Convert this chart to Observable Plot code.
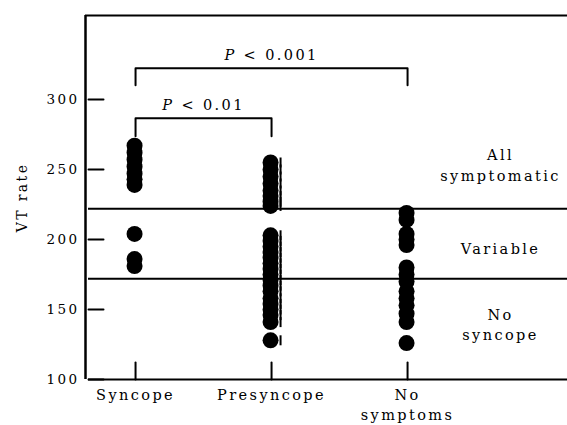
<!DOCTYPE html>
<html>
<head>
<meta charset="utf-8">
<script src="https://cdn.jsdelivr.net/npm/d3@7"></script>
<script src="https://cdn.jsdelivr.net/npm/@observablehq/plot@0.6"></script>
<style>
  html, body { margin: 0; padding: 0; background: #fff; }
</style>
</head>
<body>
<div id="chart"></div>
<script>
// ---- data ----
const categories = ["Syncope", "Presyncope", "No symptoms"];
const categoryLabels = ["Syncope", "Presyncope", "No\nsymptoms"];
const syncope = [267, 262, 257, 252, 247, 243, 239, 204, 186, 181];
const presyncope = [255, 250, 245, 240, 235, 231, 227, 224,
  203, 199, 195, 191, 187, 183, 179, 175, 171, 167, 163, 158, 154, 150, 146, 141, 128];
const noSymptoms = [219, 214, 204, 200, 196, 180, 175, 170, 163, 158, 153, 147, 141, 126];
const yTicks = [100, 150, 200, 250, 300];
const thresholds = [222, 172];
const zoneLabels = ["All\nsymptomatic", "Variable", "No\nsyncope"];
const zoneLabelY = [254, 194, 140];
const bracketFrom = [0, 0];
const bracketTo = [2, 1];
const bracketTop = [322.4, 286.6];
const bracketLeg = [310.2, 273.8];
const bracketText = ["P < 0.001", "P < 0.01"];
const bracketTextY = [331.5, 296];

const series = [syncope, presyncope, noSymptoms];
const points = series.flatMap((vals, i) => vals.map(v => ({cat: i, v})));
const catIdx = categories.map((_, i) => i);
const bracketPts = bracketFrom.flatMap((f, b) => [
  {b, x: f, y: bracketLeg[b]},
  {b, x: f, y: bracketTop[b]},
  {b, x: bracketTo[b], y: bracketTop[b]},
  {b, x: bracketTo[b], y: bracketLeg[b]}
]);
const brackets = bracketFrom.map((f, b) => ({x: (f + bracketTo[b]) / 2, y: bracketTextY[b], t: bracketText[b]}));

const X0 = -0.368, X1 = 3.176, Y0 = 100, Y1 = 360;
const lineShape = {draw(ctx, l) { ctx.moveTo(0, 0); ctx.lineTo(0, -l); }};
const vbar = {draw(ctx) { ctx.rect(-1, -5, 2, 10); }};

const plot = Plot.plot({
  width: 567,
  height: 425,
  marginLeft: 85,
  marginRight: 0,
  marginTop: 15,
  marginBottom: 46,
  x: {type: "linear", domain: [X0, X1], axis: null},
  y: {domain: [Y0, Y1], axis: null},
  style: {fontFamily: "'DejaVu Serif', serif", fontSize: "14.5px", letterSpacing: "2.4px", color: "black", background: "white"},
  marks: [
    // frame lines
    Plot.ruleX([X0], {stroke: "black", strokeWidth: 2.5}),
    Plot.ruleY([Y1], {stroke: "black", strokeWidth: 2}),
    Plot.ruleY([Y0], {stroke: "black", strokeWidth: 2, insetLeft: 3}),
    Plot.ruleY(thresholds, {stroke: "black", strokeWidth: 2, insetLeft: 3}),
    // y ticks
    Plot.vector(yTicks, {y: d => d, frameAnchor: "left", length: 15, rotate: 90, anchor: "start", shape: lineShape, dx: 3, stroke: "black", strokeWidth: 2}),
    Plot.text(yTicks, {y: d => d, text: d => String(d), frameAnchor: "left", textAnchor: "end", dx: -6, fontSize: 13.5}),
    // x ticks
    Plot.vector(catIdx, {x: d => d, frameAnchor: "bottom", length: 17, rotate: 0, anchor: "start", shape: lineShape, stroke: "black", strokeWidth: 2}),
    Plot.text(catIdx, {x: d => d, text: d => categoryLabels[d], frameAnchor: "bottom", lineAnchor: "top", dy: 7, lineHeight: 1.35}),
    // y label
    Plot.text(["VT rate"], {frameAnchor: "left", textAnchor: "middle", dx: -63, rotate: -90, fontSize: 14, letterSpacing: "3px"}),
    // brackets
    Plot.line(bracketPts, {x: "x", y: "y", z: "b", stroke: "black", strokeWidth: 2}),
    Plot.text(brackets, {x: "x", y: "y", text: "t"}),
    // zone labels
    Plot.text(zoneLabels, {y: (d, i) => zoneLabelY[i], text: d => d, frameAnchor: "right", textAnchor: "middle", dx: -67, lineHeight: 1.4}),
    // data
    Plot.dot(presyncope, {x: () => 1, y: d => d, symbol: vbar, fill: "black", dx: 9}),
    Plot.dot(points, {x: "cat", y: "v", r: 8, fill: "black", dx: -1})
  ]
});

plot.querySelectorAll("text").forEach(t => {
  if (t.textContent.startsWith("P <")) {
    const rest = t.textContent.slice(1);
    t.textContent = "";
    const ts = document.createElementNS("http://www.w3.org/2000/svg", "tspan");
    ts.setAttribute("font-style", "italic");
    ts.textContent = "P";
    t.appendChild(ts);
    t.appendChild(document.createTextNode(rest));
  }
});

document.getElementById("chart").appendChild(plot);
</script>
</body>
</html>
